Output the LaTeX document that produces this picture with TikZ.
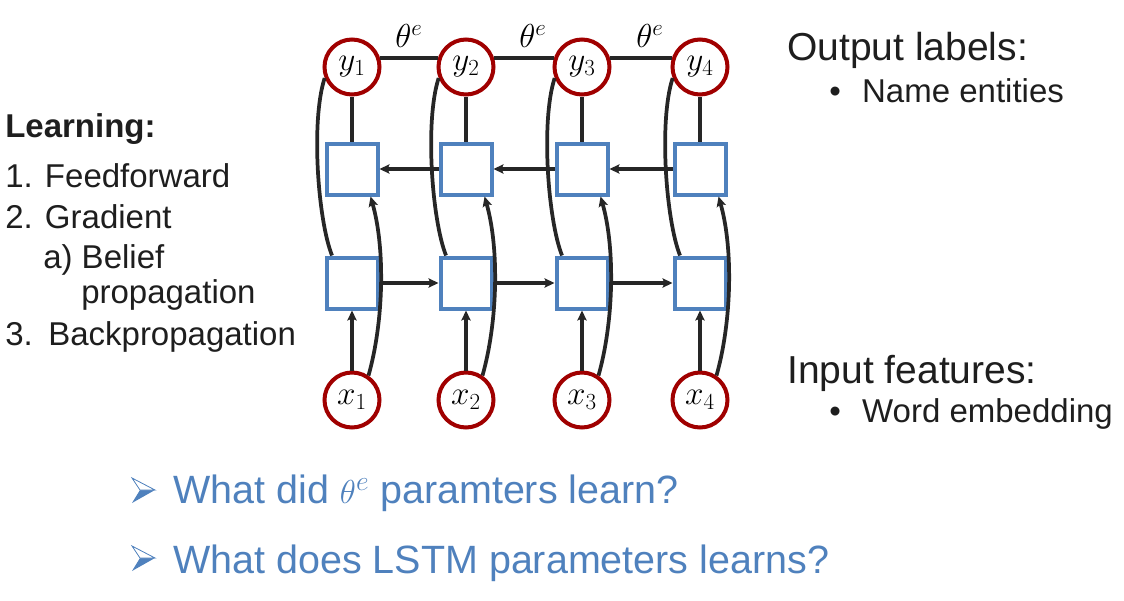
\documentclass[tikz,border=0pt]{standalone}
\usepackage{fontspec}
\setmainfont{Liberation Sans}
\usetikzlibrary{arrows.meta}
\definecolor{darkred}{RGB}{160,0,0}
\definecolor{cellblue}{RGB}{79,129,189}
\definecolor{linegray}{RGB}{38,38,38}
\definecolor{textgray}{RGB}{30,30,30}
% 3D arrowhead bullet
\newcommand{\asktip}[1]{%
  \fill[cellblue] #1 ++(-13,-12) -- ++(23,12) -- ++(-23,13) -- ++(8,-13) -- cycle;
  \filldraw[fill=white, draw=cellblue, line width=0.6pt] #1 ++(-13,-12) -- ++(23,12) -- ++(-15,0) -- cycle;
}

\begin{document}
\begin{tikzpicture}[x=0.75pt, y=-0.75pt,
      >={Stealth[length=7.5pt, width=7pt, inset=1.5pt]},
      var/.style={circle, draw=darkred, line width=3pt, fill=white,
        minimum size=41.25pt, inner sep=0pt, font=\fontsize{27}{27}\selectfont},
      cell/.style={rectangle, draw=cellblue, line width=3pt, fill=white,
        minimum size=38.25pt, inner sep=0pt},
      link/.style={draw=linegray, line width=2.4pt},
      curved link/.style={link, line width=2.8pt},
      flow/.style={link, ->},
      head/.style={anchor=base west, inner sep=0pt, text=textgray,
        font=\fontsize{29.25}{30}\selectfont},
      item/.style={anchor=base west, inner sep=0pt, text=textgray,
        font=\fontsize{24.75}{26}\selectfont},
      ask/.style={anchor=base west, inner sep=0pt, text=cellblue,
        font=\fontsize{29.6}{30}\selectfont}
      ]
      \useasboundingbox (0,0) rectangle (1124,600);

      % chain
      \foreach \i/\cx in {1/352,2/466,3/582,4/700}{
        \node[var]  (y\i) at (\cx,67)  {$y_\i$};
        \node[cell] (b\i) at (\cx,169) {};
        \node[cell] (f\i) at (\cx,283) {};
        \node[var]  (x\i) at (\cx,400) {$x_\i$};
      }
      \foreach \i in {1,...,4}{
        \draw[link] (y\i) -- (b\i);
        \draw[flow] (x\i) -- (f\i);
        \draw[curved link] (y\i.202) .. controls +(-14,43) and +(-14,-35) .. (f\i.126);
        \draw[curved link, ->] (x\i.56) .. controls +(15,-53) and +(15,53) .. (b\i.-56);
      }
      \foreach \i/\j/\dx in {1/2/0,2/3/9,3/4/9}{
        \draw[link, line width=2.8pt] (y\i.18) -- (y\j.162)
          node[midway, above=3pt, xshift=\dx*0.75pt, font=\fontsize{26}{26}\selectfont] {$\theta^e$};
        \draw[flow] (b\j) -- (b\i);
        \draw[flow] (f\i) -- (f\j);
      }

      % learning steps
      \node[item, font=\fontsize{24.75}{26}\bfseries] (learn) at (5,137) {Learning:};
      \node[item] (feed)  at (5,187)  {1. Feedforward};
      \node[item] (grad)  at (5,228)  {2. Gradient};
      \node[item] (bel)   at (43,268) {a) Belief};
      \node[item] (prop)  at (81,303) {propagation};
      \node[item] (back)  at (5,345)  {3.\hspace{0.47em}Backpropagation};

      % output / input
      \node[head] (outlab) at (787,60)  {Output labels:};
      \node[item] (ner)    at (829,102) {\textbullet\hspace{16pt}Name entities};
      \node[head] (inlab)  at (787,383) {Input features:};
      \node[item] (emb)    at (829,422) {\textbullet\hspace{16pt}Word embedding};

      % questions
      \asktip{(145,490)}
      \node[ask] (ask1) at (173,503) {What did $\theta^e$ paramters learn?};
      \asktip{(145,558)}
      \node[ask] (ask2) at (173,573) {What does LSTM parameters learns?};
\end{tikzpicture}
\end{document}
